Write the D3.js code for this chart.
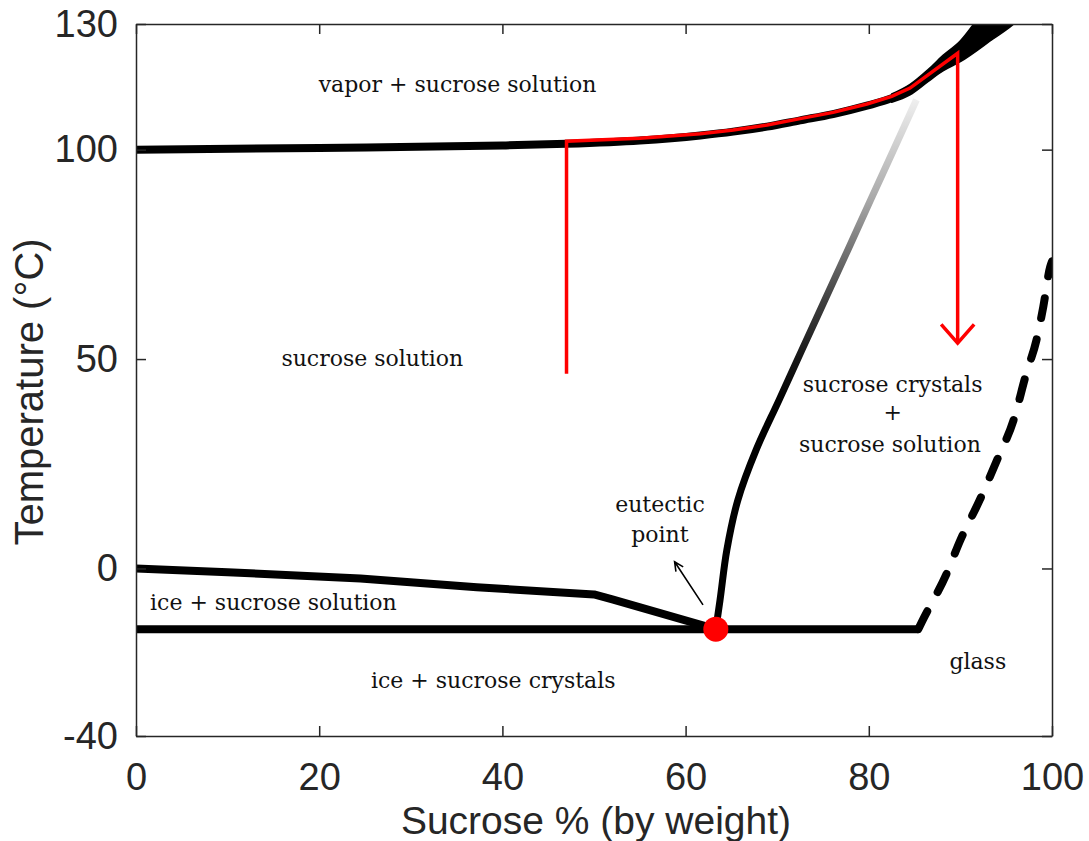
<!DOCTYPE html>
<html>
<head>
<meta charset="utf-8">
<script src="https://cdn.jsdelivr.net/npm/d3@7"></script>
<style>
  html, body { margin: 0; padding: 0; background: #fff; }
  svg { display: block; }
</style>
</head>
<body>
<svg id="chart" width="1089" height="841"></svg>
<script>
// ---------- data ----------
const xTicks = [0, 20, 40, 60, 80, 100];
const yTicks = [-40, 0, 50, 100, 130];

// boiling curve (vapor / solution boundary)
const boilX = [0, 20, 40, 47, 55, 61.6, 65.2, 68.9, 72.5, 76.1, 79.8, 82.5, 84.5];
const boilT = [100, 100.4, 101, 101.4, 102.2, 103.4, 104.3, 105.5, 107.0, 108.5, 110.5, 112.3, 114.3];

// widening boiling band at high concentration
const bandUpperX = [82.5, 84.5, 86.5, 88.1, 90.0, 91.4, 92.2];
const bandUpperT = [113.3, 115.6, 119.2, 122.5, 126.0, 129.8, 132];
const bandLowerX = [82.5, 84.5, 86.5, 88.1, 90.0, 93.6, 95.7, 96.8];
const bandLowerT = [111.3, 113.1, 116.3, 118.8, 121.0, 126.5, 129.8, 132];

// freezing curve (ice / solution)
const freezeX = [0, 10, 24.5, 37.2, 50, 52, 63.3];
const freezeT = [0, -0.9, -2.4, -4.5, -6.2, -7.4, -14.5];

// eutectic line
const eutX = [0, 85.4];
const eutT = [-14.5, -14.5];
const eutecticPoint = [63.3, -14.5];

// solubility curve (sucrose crystals / solution)
const solX = [63.3, 63.76, 64.5, 65.7, 67.7, 70.2, 72.7, 75.2, 77.7, 80.2, 82.7, 85.2];
const solT = [-14.5, -7.5, 4.4, 16.3, 28.3, 40.2, 52.2, 64.1, 76.0, 88.0, 99.9, 111.9];

// glass transition (dashed)
const glassX = [85.4, 85.8, 88.5, 90.0, 92.1, 94.0, 95.8, 97.2, 98.3, 99.05, 99.8, 100];
const glassT = [-14.5, -12.7, -1.2, 6.8, 16.3, 25.9, 35.4, 46.6, 54.5, 62.5, 72.0, 73.3];

// red process path
const redX = [47, 47, 55, 61.6, 65.2, 68.9, 72.5, 76.1, 79.8, 82.5, 84.5, 89.7, 89.7];
const redT = [46.5, 102.0, 102.7, 103.8, 104.7, 105.9, 107.4, 108.9, 110.9, 112.7, 114.7, 123.0, 53.8];

// region labels: text, x (%), T (°C) of centre/baseline
const labelText = ["vapor + sucrose solution", "sucrose solution", "sucrose crystals", "+",
  "sucrose solution", "eutectic", "point", "ice + sucrose solution", "ice + sucrose crystals", "glass"];
const labelX = [35.1, 25.8, 82.6, 82.6, 82.3, 57.2, 57.2, 15.0, 39.0, 91.9];
const labelT = [113.8, 48.3, 42.1, 35.4, 27.8, 13.5, 6.3, -9.9, -28.5, -24.0];

// ---------- drawing ----------
const svg = d3.select("#chart");
const L = 136, R = 1052, T = 24, B = 736;
const x = d3.scaleLinear().domain([0, 100]).range([L, R]);
const y = d3.scaleLinear().domain([-40, 130]).range([B, T]);

const defs = svg.append("defs");
defs.append("clipPath").attr("id", "clip")
  .append("rect").attr("x", L).attr("y", T).attr("width", R - L).attr("height", B - T);

const grad = defs.append("linearGradient").attr("id", "solGrad")
  .attr("gradientUnits", "userSpaceOnUse")
  .attr("x1", 0).attr("x2", 0).attr("y1", y(113)).attr("y2", y(40));
grad.append("stop").attr("offset", 0).attr("stop-color", "#f2f2f2");
grad.append("stop").attr("offset", (113 - 88) / 73).attr("stop-color", "#a8a8a8");
grad.append("stop").attr("offset", (113 - 64) / 73).attr("stop-color", "#404040");
grad.append("stop").attr("offset", (113 - 50) / 73).attr("stop-color", "#161616");
grad.append("stop").attr("offset", 1).attr("stop-color", "#000");

const pts = (xs, ts) => xs.map((v, i) => [v, ts[i]]);
const line = d3.line().x(d => x(d[0])).y(d => y(d[1]));
const smooth = d3.line().x(d => x(d[0])).y(d => y(d[1])).curve(d3.curveMonotoneX);

const plot = svg.append("g").attr("clip-path", "url(#clip)");

// band (smooth upper edge + smooth lower edge back)
const upPath = smooth(pts(bandUpperX, bandUpperT));
const lowPath = smooth(pts(bandLowerX, bandLowerT).reverse()).replace(/^M/, "L");
plot.append("path")
  .attr("d", upPath + lowPath + "Z")
  .attr("fill", "#000").attr("stroke", "#000").attr("stroke-width", 1.5).attr("stroke-linejoin", "round");

// boiling curve
plot.append("path").attr("d", smooth(pts(boilX, boilT)))
  .attr("fill", "none").attr("stroke", "#000").attr("stroke-width", 8).attr("stroke-linejoin", "round");

// solubility curve (gradient)
plot.append("path").attr("d", d3.line().x(d => x(d[0])).y(d => y(d[1])).curve(d3.curveMonotoneY)(pts(solX, solT)))
  .attr("fill", "none").attr("stroke", "url(#solGrad)").attr("stroke-width", 7);

// freezing curve
plot.append("path").attr("d", line(pts(freezeX, freezeT)))
  .attr("fill", "none").attr("stroke", "#000").attr("stroke-width", 8).attr("stroke-linejoin", "round");

// eutectic line
plot.append("path").attr("d", line(pts(eutX, eutT)))
  .attr("fill", "none").attr("stroke", "#000").attr("stroke-width", 8);

// glass line dashed
plot.append("path").attr("d", smooth(pts(glassX, glassT)))
  .attr("fill", "none").attr("stroke", "#000").attr("stroke-width", 8)
  .attr("stroke-dasharray", "20,22").attr("stroke-linecap", "round");

// red path
plot.append("path").attr("d", line(pts(redX, redT)))
  .attr("fill", "none").attr("stroke", "#ff0000").attr("stroke-width", 3.5).attr("stroke-linejoin", "miter");
// red arrow head
const tip = [redX[redX.length - 1], redT[redT.length - 1]];
const headDX = 1.8, headDT = 4.5;
plot.append("path").attr("d", line([[tip[0] - headDX, tip[1] + headDT], tip, [tip[0] + headDX, tip[1] + headDT]]))
  .attr("fill", "none").attr("stroke", "#ff0000").attr("stroke-width", 3.5);

// eutectic point
plot.append("circle").attr("cx", x(eutecticPoint[0])).attr("cy", y(eutecticPoint[1])).attr("r", 12.5).attr("fill", "#ff0000");

// eutectic annotation arrow
const aFrom = [61.9, -8.7], aTo = [58.8, 1.6];
const ax1 = x(aFrom[0]), ay1 = y(aFrom[1]), ax2 = x(aTo[0]), ay2 = y(aTo[1]);
const ang = Math.atan2(ay2 - ay1, ax2 - ax1);
const hl = 10, ha = 0.45;
svg.append("path")
  .attr("d", `M${ax1},${ay1}L${ax2},${ay2}M${ax2 - hl * Math.cos(ang - ha)},${ay2 - hl * Math.sin(ang - ha)}L${ax2},${ay2}L${ax2 - hl * Math.cos(ang + ha)},${ay2 - hl * Math.sin(ang + ha)}`)
  .attr("fill", "none").attr("stroke", "#000").attr("stroke-width", 1.6);

// region labels
svg.append("g").selectAll("text").data(labelText).join("text")
  .attr("x", (d, i) => x(labelX[i])).attr("y", (d, i) => y(labelT[i]))
  .attr("text-anchor", "middle")
  .attr("font-family", "'DejaVu Serif', 'Liberation Serif', serif")
  .attr("font-size", 22).attr("fill", "#111")
  .text(d => d);

// ---------- axes ----------
const axisColor = "#262626";
const styleAxis = g => {
  g.selectAll(".domain").attr("stroke", axisColor).attr("stroke-width", 1.5);
  g.selectAll(".tick line").attr("stroke", axisColor).attr("stroke-width", 1.5);
  g.selectAll(".tick text").attr("fill", "#262626")
    .attr("font-family", "'Liberation Sans', Arial, Helvetica, sans-serif").attr("font-size", 38);
};
const fmt = d => String(d);
svg.append("g").attr("transform", `translate(0,${B})`)
  .call(d3.axisBottom(x).tickValues(xTicks).tickSize(-10).tickSizeOuter(0).tickPadding(27).tickFormat(fmt))
  .call(styleAxis);
svg.append("g").attr("transform", `translate(0,${T})`)
  .call(d3.axisTop(x).tickValues(xTicks).tickSize(-10).tickSizeOuter(0).tickFormat(""))
  .call(styleAxis);
svg.append("g").attr("transform", `translate(${L},0)`)
  .call(d3.axisLeft(y).tickValues(yTicks).tickSize(-10).tickSizeOuter(0).tickPadding(18).tickFormat(fmt))
  .call(styleAxis);
svg.append("g").attr("transform", `translate(${R},0)`)
  .call(d3.axisRight(y).tickValues(yTicks).tickSize(-10).tickSizeOuter(0).tickFormat(""))
  .call(styleAxis);

// axis titles
svg.append("text").attr("x", (L + R) / 2 + 2).attr("y", 834)
  .attr("text-anchor", "middle").attr("fill", "#262626")
  .attr("font-family", "'Liberation Sans', Arial, Helvetica, sans-serif").attr("font-size", 39)
  .text("Sucrose % (by weight)");
svg.append("text").attr("transform", `translate(43,${392}) rotate(-90)`)
  .attr("text-anchor", "middle").attr("fill", "#262626")
  .attr("font-family", "'Liberation Sans', Arial, Helvetica, sans-serif").attr("font-size", 40)
  .text("Temperature (°C)");
</script>
</body>
</html>
